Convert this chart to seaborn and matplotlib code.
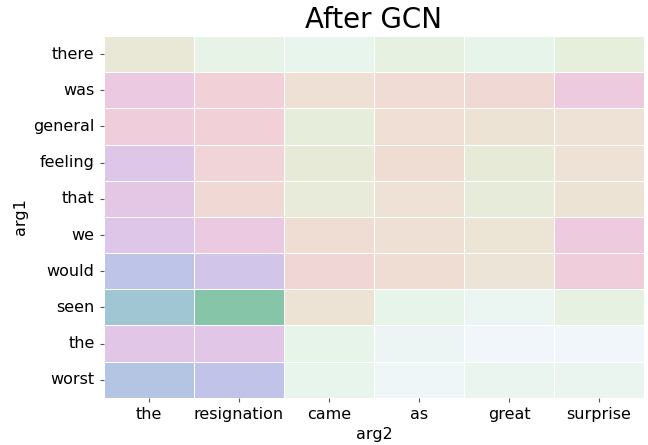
import numpy as np
import pandas as pd
import matplotlib
matplotlib.use("Agg")
import matplotlib.pyplot as plt
from matplotlib.colors import LinearSegmentedColormap
import seaborn as sns

# words on each axis
arg1_words = ["there", "was", "general", "feeling", "that", "we",
              "would", "seen", "the", "worst"]
arg2_words = ["the", "resignation", "came", "as", "great", "surprise"]

# attention weight per cell (0 = faint, 1 = strongest)
there_row = [0.28, 0.15, 0.12, 0.17, 0.14, 0.20]
was_row = [0.57, 0.48, 0.36, 0.40, 0.42, 0.55]
general_row = [0.51, 0.48, 0.22, 0.37, 0.33, 0.34]
feeling_row = [0.63, 0.45, 0.26, 0.39, 0.26, 0.34]
that_row = [0.60, 0.42, 0.25, 0.34, 0.24, 0.33]
we_row = [0.63, 0.57, 0.39, 0.36, 0.31, 0.55]
would_row = [0.75, 0.68, 0.43, 0.39, 0.32, 0.51]
seen_row = [0.88, 1.00, 0.33, 0.14, 0.09, 0.17]
the_row = [0.62, 0.62, 0.13, 0.08, 0.05, 0.05]
worst_row = [0.80, 0.74, 0.12, 0.07, 0.10, 0.10]

weights = pd.DataFrame(
    [there_row, was_row, general_row, feeling_row, that_row,
     we_row, would_row, seen_row, the_row, worst_row],
    index=arg1_words, columns=arg2_words)

# pale helix-like palette, light end -> strong end
stops = [
    (0.00, "#f2f7fb"), (0.05, "#f0f6fa"), (0.10, "#eaf5f0"),
    (0.14, "#e6f4e8"), (0.20, "#e6eedc"), (0.26, "#e8ead8"),
    (0.33, "#ede3d5"), (0.40, "#f0dcd4"), (0.48, "#f1d0d8"),
    (0.55, "#edcade"), (0.62, "#e1c6e8"), (0.68, "#d3c5ea"),
    (0.74, "#c1c4e8"), (0.80, "#b3c5e2"), (0.88, "#9fc6d3"),
    (1.00, "#86c5a8"),
]
pale_cmap = LinearSegmentedColormap.from_list("pale_helix", stops)

fig = plt.figure(figsize=(6.48, 4.45), dpi=100)
ax = fig.add_axes([0.160, 0.106, 0.834, 0.813])

sns.heatmap(weights, cmap=pale_cmap, vmin=0, vmax=1, cbar=False,
            linewidths=0.6, linecolor="white", ax=ax)

ax.set_title("After GCN", fontsize=20)
ax.set_xlabel("arg2", fontsize=11.5)
ax.set_ylabel("arg1", fontsize=11.5)
ax.tick_params(axis="both", labelsize=11.5, length=3, color="#555555")
plt.setp(ax.get_yticklabels(), rotation=0)
plt.setp(ax.get_xticklabels(), rotation=0)

fig.savefig("out.png", dpi=100)
